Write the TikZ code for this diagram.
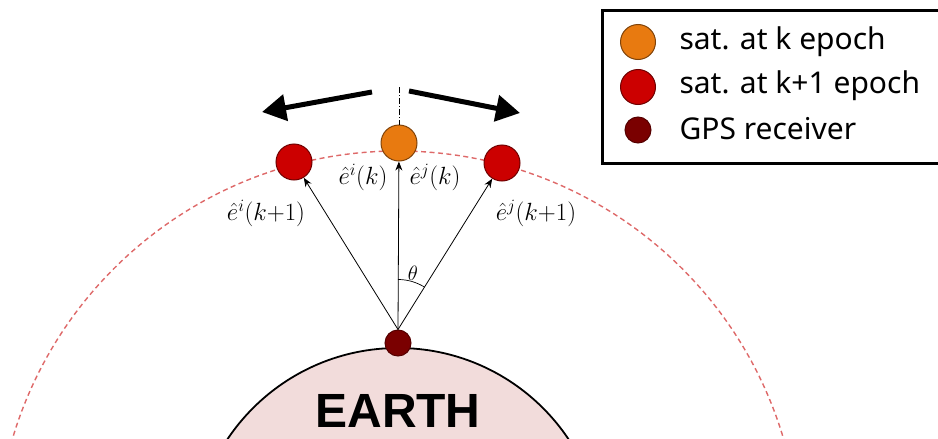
\documentclass[tikz,border=0pt]{standalone}
\usepackage{amsmath}
\usepackage{fontspec}
\setsansfont{Noto Sans}
\newfontfamily\earthfont{Liberation Sans}
\usepackage{tikz}
\usetikzlibrary{arrows.meta,calc,positioning}

\definecolor{satorange}{RGB}{232,122,16}
\definecolor{satred}{RGB}{204,0,0}
\definecolor{rcvred}{RGB}{122,0,0}
\definecolor{earthpink}{RGB}{242,220,219}
\definecolor{orbitred}{RGB}{222,105,105}

\tikzset{
  sat/.style={circle,draw=#1!55!black,fill=#1,line width=1pt,inner sep=0pt,minimum size=36pt},
  rcv/.style={circle,draw=rcvred!70!black,fill=rcvred,line width=1pt,inner sep=0pt,minimum size=26pt},
  evec/.style={-{Stealth[length=9pt,width=7pt]},line width=0.8pt},
  move/.style={-{Triangle[length=24pt,width=26pt]},line width=5pt},
  lab/.style={font=\fontsize{25}{28}\selectfont},
  legtxt/.style={font=\sffamily\fontsize{30}{33}\selectfont}
}

\begin{document}
\begin{tikzpicture}[x=1pt,y=-1pt]
\useasboundingbox (0,0) rectangle (938,439);
\clip (0,0) rectangle (938,439);

\coordinate (c) at (398,553);
\draw[orbitred,line width=1.4pt,dash pattern=on 5pt off 3.5pt] (c) circle[radius=402pt];
\draw[fill=earthpink,line width=1.8pt] (c) circle[radius=205pt];
\node[font=\earthfont\bfseries\fontsize{48}{56}\selectfont,anchor=base] (earth) at (398,427) {EARTH};

\node[rcv] (r) at (398,343) {};
\node[sat=satorange] (sk) at (399,143) {};
\node[sat=satred] (sl) at (294,162) {};
\node[sat=satred] (sr) at (502,163) {};

% line of sight vectors
\coordinate (top) at (399,87);
\draw[dash pattern=on 6pt off 2pt on 1pt off 2pt,line width=0.8pt] (top) -- (sk.north);
\draw[evec] (r.north) -- (sk);
\draw[evec] (r.north) -- (sl);
\draw[evec] (r.north) -- (sr);
\draw[line width=0.7pt] (r.north) ++(0,-50) arc[start angle=90,end angle=58,radius=50pt];
\node[font=\fontsize{20}{22}\selectfont] (th) at (413,273) {$\theta$};

\node[lab] (eik) at (363,177) {$\hat{e}^{i}(k)$};
\node[lab] (ejk) at (435,177) {$\hat{e}^{j}(k)$};
\node[lab] (eik1) at (266,213) {$\hat{e}^{i}(k{+}1)$};
\node[lab] (ejk1) at (536,213) {$\hat{e}^{j}(k{+}1)$};

% motion of the satellite
\coordinate (ml0) at (372,92);
\coordinate (ml1) at (262,112);
\coordinate (mr0) at (409,91);
\coordinate (mr1) at (520,113);
\draw[move] (ml0) -- (ml1);
\draw[move] (mr0) -- (mr1);

% legend
\draw[line width=3pt] (602,10) rectangle (960,163);
\node[sat=satorange,minimum size=35pt] (lg1) at (638,42) {};
\node[sat=satred,minimum size=35pt] (lg2) at (638,87) {};
\node[rcv,minimum size=26pt] (lg3) at (638,130) {};
\node[legtxt,anchor=west] (lt1) at (676,42) {sat. at k epoch};
\node[legtxt,anchor=west] (lt2) at (676,86) {sat. at k+1 epoch};
\node[legtxt,anchor=west] (lt3) at (676,129) {GPS receiver};
\end{tikzpicture}
\end{document}
